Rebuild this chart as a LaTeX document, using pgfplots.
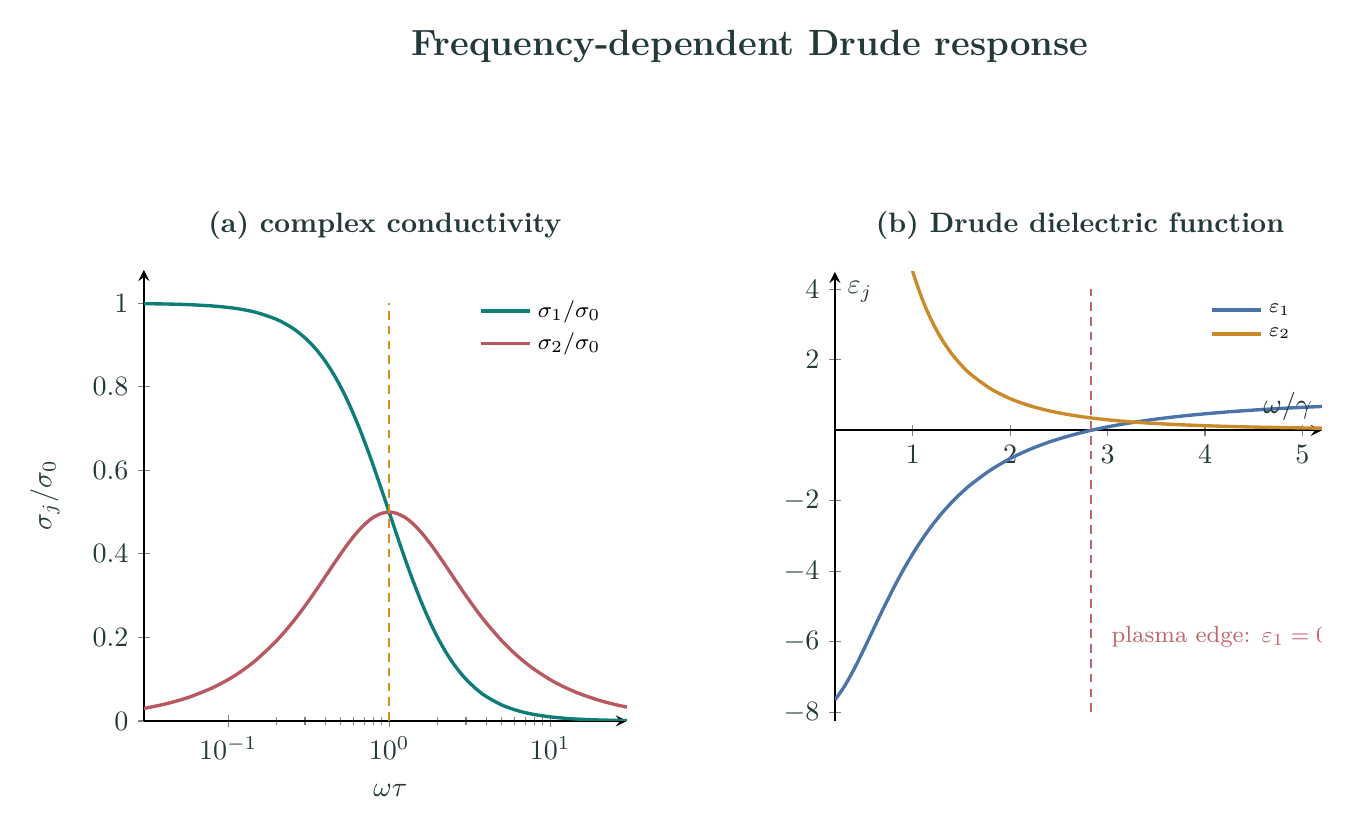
\documentclass[border=0pt]{standalone}
\usepackage{pgfplots}
\pgfplotsset{compat=1.18}
\definecolor{ink}{HTML}{23393A}
\definecolor{cTeal}{HTML}{0E7C78}
\definecolor{cRose}{HTML}{B85860}
\definecolor{cBlue}{HTML}{4A74A8}
\definecolor{cGold}{HTML}{CA8A2A}
\definecolor{cOrange}{HTML}{D4901E}
\definecolor{cEdge}{HTML}{C0646C}

\pgfplotsset{
  panel/.style={
    scale only axis,
    tick align=center,
    major tick length=4pt,
    minor tick length=2.5pt,
    every tick/.style={gray, thin},
    axis line style={black, line width=0.75pt, -stealth},
    tick label style={text=ink},
    label style={text=ink},
    legend cell align=left,
    legend image post style={line width=1.2pt},
  },
  guide/.style={line width=0.55pt, dash pattern=on 3.1pt off 2.2pt},
}

\begin{document}
\begin{tikzpicture}
\useasboundingbox (-51.3pt,-39.9pt) rectangle (429.2pt,257.0pt);

% overall heading and panel headings
\node[text=ink, font=\fontsize{13}{15}\selectfont\bfseries] at (216.0pt,240.3pt) {Frequency-dependent Drude response};
\node[text=ink, font=\bfseries] at (85.9pt,176.5pt) {(a) complex conductivity};
\node[text=ink, font=\bfseries] at (333.7pt,176.5pt) {(b) Drude dielectric function};

% (a) complex conductivity versus omega*tau
\begin{axis}[
  panel,
  at={(0pt,0pt)}, anchor=south west,
  width=172.2pt, height=160.8pt,
  xmode=log,
  xmin=0.03, xmax=30,
  ymin=0, ymax=1.08,
  axis lines=left,
  xtick={0.1,1,10},
  ytick={0,0.2,0.4,0.6,0.8,1},
  xlabel={$\omega\tau$},
  ylabel={$\sigma_j/\sigma_0$},
  xlabel style={at={(axis description cs:0.51,-0.153)}, anchor=center},
  ylabel style={at={(axis description cs:-0.205,0.5)}, anchor=center},
  legend style={draw=none, fill=none, at={(0.975,0.958)}, anchor=north east,
                font=\footnotesize},
  legend image code/.code={\draw[#1] (0pt,0pt) -- (0.62cm,0pt);},
]
\addplot[cTeal, line width=1.2pt, smooth] coordinates {
  (0.03,0.9991) (0.04,0.9984) (0.05,0.9975) (0.06,0.9964) (0.08,0.9936)
  (0.1,0.9901) (0.12,0.9858) (0.15,0.9780) (0.2,0.9615) (0.25,0.9412)
  (0.3,0.9174) (0.35,0.8909) (0.4,0.8621) (0.45,0.8316) (0.5,0.8)
  (0.55,0.7678) (0.6,0.7353) (0.65,0.7030) (0.7,0.6711) (0.75,0.64)
  (0.8,0.6098) (0.9,0.5525) (1.0,0.5) (1.1,0.4525) (1.25,0.3902)
  (1.4,0.3378) (1.6,0.2809) (1.8,0.2358) (2.0,0.2) (2.25,0.1649)
  (2.5,0.1379) (2.75,0.1168) (3,0.1) (3.5,0.07547) (4,0.05882)
  (5,0.03846) (6,0.02703) (7,0.02) (8,0.01538) (10,0.0099)
  (12,0.006897) (15,0.004425) (20,0.002494) (25,0.001597) (30,0.00111)
};
\addlegendentry{$\sigma_1/\sigma_0$}
\addplot[cRose, line width=1.2pt, smooth] coordinates {
  (0.03,0.02997) (0.04,0.03994) (0.05,0.04988) (0.06,0.05978) (0.08,0.07949)
  (0.1,0.09901) (0.12,0.1183) (0.15,0.1467) (0.2,0.1923) (0.25,0.2353)
  (0.3,0.2752) (0.35,0.3118) (0.4,0.3448) (0.45,0.3742) (0.5,0.4)
  (0.55,0.4223) (0.6,0.4412) (0.65,0.4569) (0.7,0.4698) (0.75,0.48)
  (0.8,0.4878) (0.9,0.4972) (1.0,0.5) (1.1,0.4977) (1.25,0.4878)
  (1.4,0.4730) (1.6,0.4494) (1.8,0.4245) (2.0,0.4) (2.25,0.3711)
  (2.5,0.3448) (2.75,0.3212) (3,0.3) (3.5,0.2642) (4,0.2353)
  (5,0.1923) (6,0.1622) (7,0.14) (8,0.1231) (10,0.0990)
  (12,0.08276) (15,0.06637) (20,0.04988) (25,0.03994) (30,0.0333)
};
\addlegendentry{$\sigma_2/\sigma_0$}
\addplot[cOrange, guide, forget plot] coordinates {(1,0) (1,1)};
\end{axis}

% (b) Drude dielectric function versus omega/gamma
\begin{axis}[
  panel,
  at={(246.3pt,0pt)}, anchor=south west,
  width=173.6pt, height=160.1pt,
  xmin=0.2, xmax=5.2,
  ymin=-8.25, ymax=4.5,
  axis x line=middle,
  axis y line=left,
  xtick={1,2,3,4,5},
  ytick={-8,-6,-4,-2,2,4},
  xlabel={$\omega/\gamma$},
  ylabel={$\varepsilon_j$},
  every axis x label/.style={at={(axis cs:5.2,0)}, anchor=south east, text=ink},
  every axis y label/.style={at={(rel axis cs:0,1)}, anchor=north west, xshift=1pt, text=ink},
  legend style={draw=none, fill=none, at={(0.965,0.955)}, anchor=north east,
                font=\scriptsize},
  legend image code/.code={\draw[#1] (0pt,0pt) -- (0.62cm,0pt);},
]
\addplot[cBlue, line width=1.2pt, smooth] coordinates {
  (0.2,-7.654) (0.3,-7.257) (0.4,-6.759) (0.5,-6.2) (0.6,-5.618)
  (0.7,-5.040) (0.8,-4.488) (0.9,-3.972) (1.0,-3.5) (1.1,-3.072)
  (1.2,-2.689) (1.3,-2.346) (1.4,-2.041) (1.5,-1.769) (1.6,-1.528)
  (1.8,-1.123) (2.0,-0.8) (2.2,-0.541) (2.4,-0.331) (2.6,-0.160)
  (2.8,-0.018) (3.0,0.1) (3.25,0.2216) (3.5,0.3208) (3.75,0.4025)
  (4.0,0.4706) (4.25,0.5279) (4.5,0.5765) (4.75,0.6180) (5.0,0.6538)
  (5.2,0.6790)
};
\addlegendentry{$\varepsilon_1$}
\addplot[cGold, line width=1.2pt, smooth] coordinates {
  (0.8,6.86) (0.9,5.525) (1.0,4.5) (1.1,3.702) (1.2,3.074) (1.3,2.574)
  (1.4,2.172) (1.5,1.846) (1.6,1.580) (1.8,1.179) (2.0,0.9)
  (2.2,0.7005) (2.4,0.5546) (2.6,0.4462) (2.8,0.3636) (3.0,0.3)
  (3.25,0.2395) (3.5,0.1941) (3.75,0.1593) (4.0,0.1324) (4.25,0.1111)
  (4.5,0.0941) (4.75,0.0804) (5.0,0.0692) (5.2,0.0617)
};
\addlegendentry{$\varepsilon_2$}
\addplot[cEdge, guide, forget plot] coordinates {(2.828,-8) (2.828,4)};
\node[text=cEdge, font=\fontsize{8.3}{10}\selectfont, anchor=west] at (axis cs:2.94,-5.85) {plasma edge: $\varepsilon_1 = 0$};
\end{axis}
\end{tikzpicture}
\end{document}
